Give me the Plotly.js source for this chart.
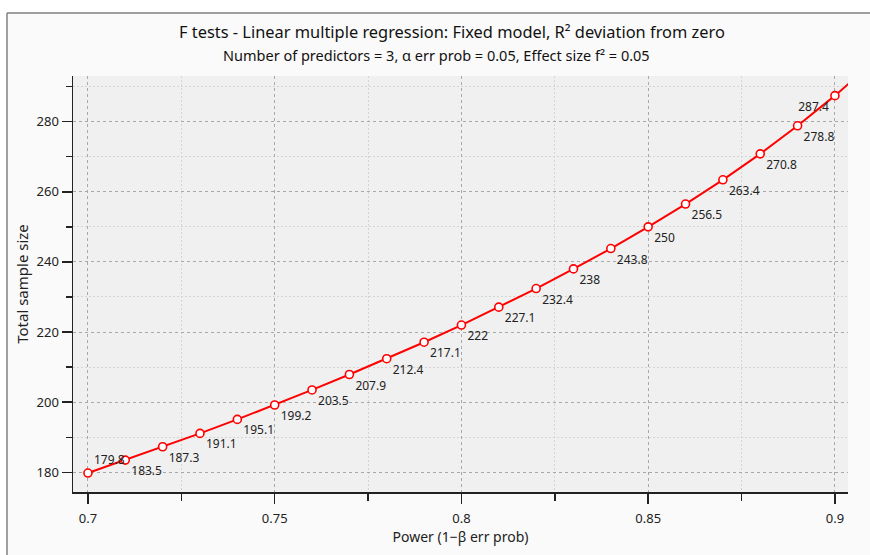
<!DOCTYPE html>
<html>
<head>
<meta charset="utf-8">
<script src="https://cdn.plot.ly/plotly-3.0.1.min.js"></script>
<style>html,body{margin:0;padding:0;background:#fff;}#chart{width:870px;height:555px;}</style>
</head>
<body>
<div id="chart"></div>
<script>
const power = [0.70,0.71,0.72,0.73,0.74,0.75,0.76,0.77,0.78,0.79,0.80,0.81,0.82,0.83,0.84,0.85,0.86,0.87,0.88,0.89,0.90];
const sampleSize = [179.8,183.5,187.3,191.1,195.1,199.2,203.5,207.9,212.4,217.1,222,227.1,232.4,238,243.8,250,256.5,263.4,270.8,278.8,287.4];
const extPower = [0.90,0.91];
const extSize = [287.4,296.7];
const labels = sampleSize.map(v => String(v));
const labelPos = sampleSize.map((v,i) => i === 0 ? 'top right' : (i === sampleSize.length-1 ? 'bottom left' : 'bottom right'));
const titleLine1 = 'F tests - Linear multiple regression: Fixed model, R² deviation from zero';
const titleLine2 = 'Number of predictors = 3, α err prob = 0.05, Effect size f² = 0.05';

const FONT = 'Noto Sans, Liberation Sans, sans-serif';
const L = 73, R = 848, T = 76, B = 492;
const px = x => (x - L) / (R - L);
const py = y => (B - y) / (B - T);

const traces = [
  {x: extPower, y: extSize, mode: 'lines', line: {color: '#ff0000', width: 2}, hoverinfo: 'skip', showlegend: false},
  {x: power, y: sampleSize, mode: 'lines+markers+text', text: labels, textposition: labelPos,
   textfont: {family: FONT, size: 12, color: '#222'},
   line: {color: '#ff0000', width: 2},
   marker: {symbol: 'circle', size: 8, color: '#ffffff', line: {color: '#ff0000', width: 1.6}},
   cliponaxis: false, showlegend: false}
];

const gridMajor = {showgrid: true, gridcolor: '#a8a8a8', griddash: '3px,3px', gridwidth: 1};
const gridMinor = {showgrid: true, gridcolor: '#d4d4d4', griddash: '2px,2px', gridwidth: 1};

const layout = {
  width: 870, height: 555,
  margin: {l: L, r: 870 - R, t: T, b: 555 - B},
  paper_bgcolor: '#fafafa', plot_bgcolor: '#f0f0f0',
  font: {family: FONT, color: '#222', size: 13},
  xaxis: Object.assign({range: [0.696, 0.9035], dtick: 0.05, tick0: 0.7, ticks: 'outside', ticklen: 10, tickwidth: 1.5, tickcolor: '#222',
          showline: true, linecolor: '#222', linewidth: 1.5, zeroline: false, ticklabelstandoff: 4,
          minor: Object.assign({dtick: 0.025, tick0: 0.7, ticks: 'outside', ticklen: 7, tickwidth: 1.5, tickcolor: '#222'}, gridMinor),
          tickfont: {family: FONT, size: 13, color: '#222'},
          title: {text: 'Power (1−β err prob)', font: {family: FONT, size: 14, color: '#222'}, standoff: 4}}, gridMajor),
  yaxis: Object.assign({range: [174.4, 293.0], dtick: 20, tick0: 180, ticks: 'outside', ticklen: 10, tickwidth: 1.5, tickcolor: '#222',
          showline: true, linecolor: '#222', linewidth: 1.5, zeroline: false,
          minor: Object.assign({dtick: 10, tick0: 180, ticks: 'outside', ticklen: 6, tickwidth: 1.5, tickcolor: '#222'}, gridMinor),
          tickfont: {family: FONT, size: 13, color: '#222'},
          title: {text: 'Total sample size', font: {family: FONT, size: 15, color: '#222'}, standoff: 4}}, gridMajor),
  annotations: [
    {text: titleLine1, xref: 'paper', yref: 'paper', x: px(452), y: py(31), xanchor: 'center', yanchor: 'middle', showarrow: false,
     font: {family: FONT, size: 16.4, color: '#111'}},
    {text: titleLine2, xref: 'paper', yref: 'paper', x: px(436), y: py(55), xanchor: 'center', yanchor: 'middle', showarrow: false,
     font: {family: FONT, size: 14.5, color: '#111'}}
  ],
  shapes: [
    {type: 'rect', xref: 'paper', yref: 'paper', x0: px(0), x1: px(870), y0: py(13), y1: py(0), fillcolor: '#ffffff', line: {width: 0}, layer: 'below'},
    {type: 'rect', xref: 'paper', yref: 'paper', x0: px(0), x1: px(7), y0: py(555), y1: py(0), fillcolor: '#ffffff', line: {width: 0}, layer: 'below'},
    {type: 'line', xref: 'paper', yref: 'paper', x0: px(7), x1: px(870), y0: py(13), y1: py(13), line: {color: '#808080', width: 1.5}},
    {type: 'line', xref: 'paper', yref: 'paper', x0: px(7), x1: px(7), y0: py(13), y1: py(555), line: {color: '#808080', width: 1.5}}
  ]
};

Plotly.newPlot('chart', traces, layout, {displayModeBar: false, staticPlot: true});
</script>
</body>
</html>
